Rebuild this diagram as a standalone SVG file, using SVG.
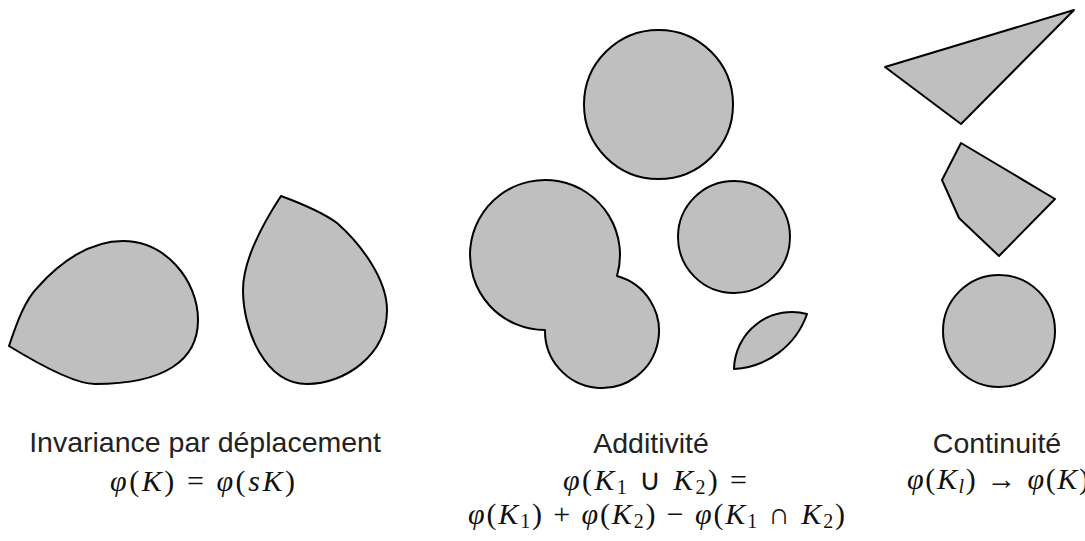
<svg xmlns="http://www.w3.org/2000/svg" width="1085" height="541" viewBox="0 0 1085 541">
<style>
.s{fill:#bfbfbf;stroke:#000;stroke-width:2;stroke-linejoin:round}
.t{font-family:"Liberation Sans",Arial,sans-serif;font-size:28.5px;fill:#222;text-anchor:middle}
.m{font-family:"Liberation Serif","Times New Roman",serif;font-size:30px;fill:#111}
.i{font-style:italic}
.sub{font-size:20px}
</style>
<rect width="1085" height="541" fill="#fff"/>
<g id="invariance">
<path id="drop1" class="s" d="M9,346 C17,322 25,300 38,287 C60,262 90,241 123,241 C165,241 198,280 198,320 C198,360 165,384 95,384 C75,384 40,365 9,346 Z"/>
<path id="drop2" class="s" d="M281,196 C300,203 322,212 337,223 C362,245 387,280 387,310 C387,355 345,384 307,384 C265,384 243,330 243,290 C243,260 262,225 281,196 Z"/>
<text class="t" x="205" y="452">Invariance par déplacement</text>
<text class="m" x="110" y="491" textLength="185"><tspan class="i">φ</tspan>(<tspan class="i">K</tspan>) = <tspan class="i">φ</tspan>(<tspan class="i">sK</tspan>)</text>
</g>
<g id="additivite">
<circle id="c-top" class="s" cx="658.5" cy="104.5" r="74.5"/>
<path id="union" class="s" d="M617,276 A75,75 0 1 0 545,330 A57,57 0 1 0 617,276 Z"/>
<circle id="c-right" class="s" cx="734" cy="237" r="56"/>
<path id="lens" class="s" d="M734,369 A58,58 0 0 1 807,314 A82,82 0 0 1 734,369 Z"/>
<text class="t" x="651" y="453">Additivité</text>
<text class="m" x="563" y="490" textLength="184"><tspan class="i">φ</tspan>(<tspan class="i">K</tspan><tspan class="sub" dy="4">1</tspan><tspan dy="-4"> ∪ </tspan><tspan class="i">K</tspan><tspan class="sub" dy="4">2</tspan><tspan dy="-4">) =</tspan></text>
<text class="m" x="468" y="524" textLength="377"><tspan class="i">φ</tspan>(<tspan class="i">K</tspan><tspan class="sub" dy="4">1</tspan><tspan dy="-4">) + </tspan><tspan class="i">φ</tspan>(<tspan class="i">K</tspan><tspan class="sub" dy="4">2</tspan><tspan dy="-4">) − </tspan><tspan class="i">φ</tspan>(<tspan class="i">K</tspan><tspan class="sub" dy="4">1</tspan><tspan dy="-4"> ∩ </tspan><tspan class="i">K</tspan><tspan class="sub" dy="4">2</tspan><tspan dy="-4">)</tspan></text>
</g>
<g id="continuite">
<polygon id="tri" class="s" points="885,67 1074,10 961,124"/>
<polygon id="poly" class="s" points="961,143 942,180 959,218 999,256 1055,199"/>
<circle id="c-br" class="s" cx="999" cy="331" r="56"/>
<text class="t" x="997" y="453">Continuité</text>
<text class="m" x="907" y="489" textLength="182"><tspan class="i">φ</tspan>(<tspan class="i">K</tspan><tspan class="sub i" dy="4">l</tspan><tspan dy="-4">) → </tspan><tspan class="i">φ</tspan>(<tspan class="i">K</tspan>)</text>
</g>
</svg>
